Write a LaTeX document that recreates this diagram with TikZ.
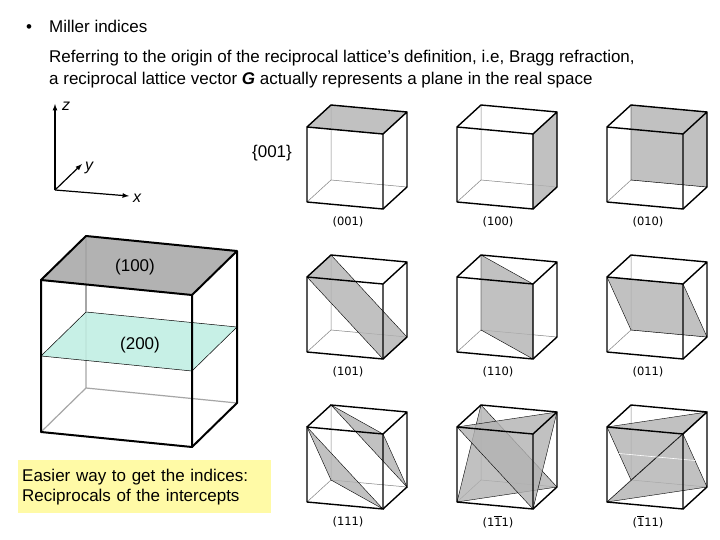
\documentclass[tikz,border=0pt]{standalone}
\usepackage{fontspec}
\setmainfont{Liberation Sans}
\newfontfamily\labfont{DejaVu Sans}
\newcommand\ob[1]{$\overline{\mbox{#1}}$}
\definecolor{mint}{RGB}{190,238,226}
\tikzset{
  thickedge/.style={line width=1.4pt,line join=round},
  thinedge/.style={line width=0.5pt,gray},
  plane/.style={fill=black!30,fill opacity=0.8,draw=black,line width=0.4pt},
  idx/.style={font=\labfont\fontsize{11.5}{13}\selectfont,inner sep=0pt},
  txt/.style={font=\fontsize{17}{20}\selectfont,inner sep=0pt,anchor=base west},
  axlab/.style={font=\rmfamily\itshape\fontsize{16}{17}\selectfont,inner sep=0pt}
}
\newcommand\cubeA[3]{%
  \begin{scope}[shift={(#1pt,-#2pt)},x={(76pt,-7pt)},y={(24pt,22pt)},z={(0pt,75pt)}]
    \draw[thinedge] (0,1,0)--(0,1,1) (0,1,0)--(1,1,0) (0,1,0)--(0,0,0);
    #3
    \draw[thickedge] (0,0,0)--(1,0,0)--(1,0,1)--(0,0,1)--cycle;
    \draw[thickedge] (0,0,1)--(0,1,1)--(1,1,1)--(1,0,1) (1,1,1)--(1,1,0)--(1,0,0);
  \end{scope}}
\begin{document}
\begin{tikzpicture}[x=1pt,y=-1pt]
\useasboundingbox (0,0) rectangle (720,540);
\fill[white] (0,0) rectangle (720,540);
% text
\node[txt] (bul) at (26,33) {\textbullet};
\node[txt] (t1) at (49,33) {Miller indices};
\node[txt] (t2) at (49,63) {Referring to the origin of the reciprocal lattice’s definition, i.e, Bragg refraction,};
\node[txt] (t3) at (49,85) {a reciprocal lattice vector \textit{\textbf{G}} actually represents a plane in the real space};
% axes
\coordinate (o) at (55,190);
\coordinate (zt) at (55,104);
\coordinate (xt) at (129,196);
\coordinate (yt) at (82,164);
\draw[line width=1.2pt,-latex] (o)--(zt);
\draw[line width=1.2pt,-latex] (o)--(xt);
\draw[line width=1.2pt,-latex] (o)--(yt);
\node[axlab] (zl) at (66,106) {z};
\node[axlab] (yl) at (89,168) {y};
\node[axlab] (xl) at (137,198) {x};
\node[font=\fontsize{17}{20}\selectfont,inner sep=0pt] (fam) at (272,153) {\{001\}};
% big cube
\begin{scope}[shift={(41pt,-432pt)},x={(151pt,-15pt)},y={(45pt,44pt)},z={(0pt,152pt)}]
  \draw[line width=1.2pt,gray!70] (0,1,0)--(0,1,1) (0,1,0)--(1,1,0) (0,1,0)--(0,0,0);
  \fill[black!30] (0,0,1)--(1,0,1)--(1,1,1)--(0,1,1)--cycle;
  \draw[fill=mint,fill opacity=0.85,line width=0.5pt] (0,0,0.5)--(1,0,0.5)--(1,1,0.5)--(0,1,0.5)--cycle;
  \draw[line width=1.2pt,gray!70] (0,1,0.5)--(0,1,1);
  \draw[line width=2pt,line join=round] (0,0,0)--(1,0,0)--(1,0,1)--(0,0,1)--cycle;
  \draw[line width=2pt,line join=round] (0,0,1)--(0,1,1)--(1,1,1)--(1,0,1) (1,1,1)--(1,1,0)--(1,0,0);
\end{scope}
\node[font=\fontsize{17}{20}\selectfont,inner sep=0pt] (l100) at (135,267) {(100)};
\node[font=\fontsize{17}{20}\selectfont,inner sep=0pt] (l200) at (140,345) {(200)};
\node[fill=yellow!35,anchor=north west,minimum width=249pt,minimum height=53pt,text width=245pt,align=left,font=\fontsize{17}{20}\selectfont,inner sep=4pt] (box) at (18,460) {Easier way to get the indices:\\Reciprocals of the intercepts};
% small cubes row 1
\cubeA{307}{202}{\fill[plane] (0,0,1)--(1,0,1)--(1,1,1)--(0,1,1)--cycle;}
\cubeA{457}{202}{\fill[plane] (1,0,0)--(1,1,0)--(1,1,1)--(1,0,1)--cycle;}
\cubeA{607}{202}{\fill[plane] (0,1,0)--(1,1,0)--(1,1,1)--(0,1,1)--cycle;}
% row 2
\cubeA{307}{352}{\draw[plane] (1,0,0)--(1,1,0)--(0,1,1)--(0,0,1)--cycle;}
\cubeA{457}{352}{\draw[plane] (1,0,0)--(1,0,1)--(0,1,1)--(0,1,0)--cycle;}
\cubeA{607}{352}{\draw[plane] (0,1,0)--(1,1,0)--(1,0,1)--(0,0,1)--cycle;}
% row 3
\cubeA{307}{502}{\draw[plane] (0,1,1)--(1,0,1)--(1,1,0)--cycle; \draw[plane] (0,0,1)--(1,0,0)--(0,1,0)--cycle;}
\cubeA{457}{502}{\draw[plane] (0,0,0)--(1,1,0)--(0,1,1)--cycle; \draw[plane] (1,0,0)--(0,0,1)--(1,1,1)--cycle;}
\cubeA{607}{502}{\draw[plane] (0,0,0)--(1,1,0)--(1,0,1)--cycle; \draw[plane] (0,0,1)--(0,1,0)--(1,1,1)--cycle; \draw[white,line width=0.6pt] (0,0.5,0.5)--(1,0.5,0.5);}
% labels
\node[idx] (i1) at (348,222) {(001)};
\node[idx] (i2) at (498,222) {(100)};
\node[idx] (i3) at (648,222) {(010)};
\node[idx] (i4) at (348,372) {(101)};
\node[idx] (i5) at (498,372) {(110)};
\node[idx] (i6) at (648,372) {(011)};
\node[idx] (i7) at (348,522) {(111)};
\node[idx] (i8) at (498,522) {(1\ob{1}1)};
\node[idx] (i9) at (648,522) {(\ob{1}11)};
\end{tikzpicture}
\end{document}
